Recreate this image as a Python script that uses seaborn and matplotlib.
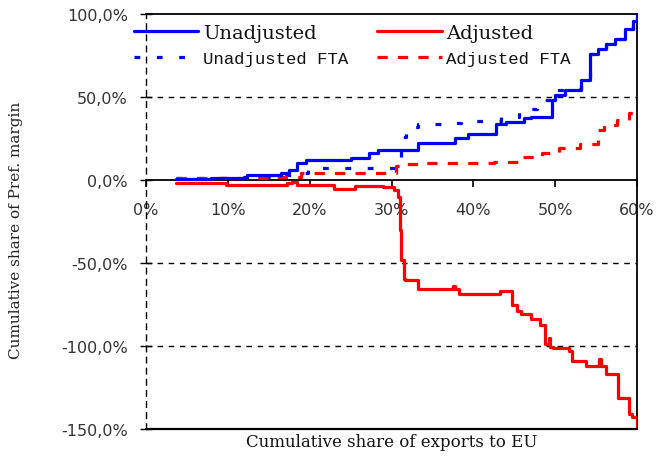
import matplotlib
matplotlib.use("Agg")
import matplotlib.pyplot as plt
import seaborn as sns
import numpy as np
import pandas as pd

# ---------------- data (x = cumulative share of exports, %, y = cumulative share of pref. margin, %) ----
unadj_x = [3.7, 8, 11, 12.3, 16.5, 17.5, 18.5, 19.5, 25, 27.3, 28.3, 30, 33.2, 35, 37.8, 39.3, 42.8,
           44, 46.2, 47, 49.6, 50, 51.2, 53.2, 54.3, 55.2, 56.2, 57.3, 58.5, 59.5, 60]
unadj_y = [0.5, 1, 1.5, 3, 4, 6, 10, 12, 13.5, 16, 17.8, 18, 22, 22.5, 25.3, 27.7, 34,
           35, 37.5, 38, 48, 51, 54, 60.5, 76, 79, 82, 85, 91, 96, 100]

unadj_fta_x = [3.7, 12, 16, 19, 19.8, 30.5, 31.2, 31.8, 33.2, 36, 38.5, 41, 43.4, 45.6, 47.8, 50, 51.2,
               53.2, 54.3, 55.2, 56.2, 57.3, 58.5, 59.5, 60]
unadj_fta_y = [1.5, 2, 3, 4, 7.2, 13.5, 26, 32, 33.7, 34.5, 35.3, 35.8, 38, 42.6, 48, 54, 55,
               60.5, 76, 79, 82, 85, 91, 96, 100]

adj_x = [3.7, 9.8, 17.2, 17.8, 18.5, 23, 25.5, 29, 30.3, 30.8, 31.0, 31.2, 31.5, 31.7, 33.2, 37.5,
         37.8, 38.2, 43.3, 44.7, 45.3, 45.8, 47, 48.2, 48.7, 49.2, 49.4, 49.7, 51.7, 52, 53.8,
         55.3, 55.6, 56.2, 57.7, 59, 59.4, 60]
adj_y = [-1.6, -3, -2, -1, -3, -5.5, -3.5, -4.5, -6, -10, -30, -48, -59.5, -60, -65.5, -64,
         -65.5, -68.5, -66.7, -75, -79, -81, -83.5, -87.5, -99, -95, -100.5, -101, -103, -109, -112,
         -108, -112, -117, -131.5, -141, -143, -150]

adj_fta_x = [3.7, 15, 19, 30.5, 31.3, 33.4, 42.5, 46, 48.4, 50.5, 53, 55.2, 56, 57.5, 59, 60]
adj_fta_y = [1.5, 2, 4, 8.5, 9.5, 10, 11, 14, 16, 19.5, 21.5, 30, 33, 36, 40.5, 42]

series_names = ["Unadjusted", "Adjusted", "Unadjusted FTA", "Adjusted FTA"]

xtick_values = [0, 10, 20, 30, 40, 50, 60]
xtick_labels = ["0%", "10%", "20%", "30%", "40%", "50%", "60%"]
ytick_values = [100, 50, 0, -50, -100, -150]
ytick_labels = ["100,0%", "50,0%", "0,0%", "-50,0%", "-100,0%", "-150,0%"]
grid_values = [50, -50, -100]

xlabel_text = "Cumulative share of exports to EU"
ylabel_text = "Cumulative share of Pref. margin"

# ---------------- figure ----------------
sns.set_theme(style="white")
plt.rcParams["font.family"] = ["DejaVu Sans"]

fig = plt.figure(figsize=(6.63, 4.60), dpi=100)
ax = fig.add_axes([146 / 663, 1 - 430 / 460, (637 - 146) / 663, (430 - 15) / 460])
ax.set_facecolor("white")

BLUE = "#0000ff"
RED = "#ff0000"
LW = 2.3

df_u = pd.DataFrame({"x": unadj_x, "y": unadj_y})
df_uf = pd.DataFrame({"x": unadj_fta_x, "y": unadj_fta_y})
df_a = pd.DataFrame({"x": adj_x, "y": adj_y})
df_af = pd.DataFrame({"x": adj_fta_x, "y": adj_fta_y})

common = dict(estimator=None, errorbar=None, drawstyle="steps-post", legend=False)
sns.lineplot(data=df_uf, x="x", y="y", ax=ax, color=BLUE, lw=LW,
             linestyle=(0, (1.8, 5.2)), zorder=3, **common)
sns.lineplot(data=df_af, x="x", y="y", ax=ax, color=RED, lw=LW,
             linestyle=(0, (3.2, 3.2)), zorder=3, **common)
sns.lineplot(data=df_a, x="x", y="y", ax=ax, color=RED, lw=LW, zorder=4, **common)
sns.lineplot(data=df_u, x="x", y="y", ax=ax, color=BLUE, lw=LW, zorder=5, **common)

lines = ax.get_lines()
h_uf, h_af, h_a, h_u = lines[0], lines[1], lines[2], lines[3]

ax.set_xlim(0, 60)
ax.set_ylim(-150, 100)

# grid lines
for g in grid_values:
    ax.axhline(g, color="black", lw=1.0, linestyle=(0, (4, 4)), zorder=1)

# spines
ax.spines["left"].set_linestyle((0, (4, 4)))
ax.spines["left"].set_linewidth(1.0)
ax.spines["left"].set_color("black")
ax.spines["bottom"].set_position(("data", 0))
ax.spines["bottom"].set_color("black")
ax.spines["bottom"].set_linewidth(1.3)
for s in ["top", "right"]:
    ax.spines[s].set_color("black")
    ax.spines[s].set_linewidth(1.3)
ax.axhline(-150, color="black", lw=1.6, clip_on=False, zorder=6)

ax.set_xticks(xtick_values)
ax.set_xticklabels(xtick_labels)
ax.set_yticks(ytick_values)
ax.set_yticklabels(ytick_labels)
ax.tick_params(axis="x", direction="out", length=5, width=1.2, color="black",
               pad=11, labelsize=11.5, labelcolor="#333333", bottom=True)
ax.tick_params(axis="y", direction="inout", length=8, width=1.0, color="black",
               pad=9, labelsize=11.5, labelcolor="#333333", left=True)
ax.set_xlabel("")
ax.set_ylabel("")

fig.text(16 / 663, 0.5, ylabel_text, rotation=90, ha="center", va="center",
         family="DejaVu Serif", fontsize=11, color="#222222")
fig.text(392 / 663, 1 - 443 / 460, xlabel_text, ha="center", va="center",
         family="DejaVu Serif", fontsize=12, color="#111111")

# legend (column-wise fill: Unadjusted, Unadjusted FTA | Adjusted, Adjusted FTA)
handles = [h_u, h_uf, h_a, h_af]
labels = [series_names[0], series_names[2], series_names[1], series_names[3]]
leg = fig.legend(handles, labels, ncol=2, loc="upper left",
                 bbox_to_anchor=(134 / 663, 1 - 25 / 460), frameon=False,
                 prop={"family": "DejaVu Serif", "size": 14},
                 handlelength=3.3, handletextpad=0.25, columnspacing=1.5,
                 labelspacing=0.4, borderpad=0, borderaxespad=0)
texts = leg.get_texts()
for i in (1, 3):
    texts[i].set_fontfamily("Liberation Mono")
    texts[i].set_fontsize(12.5)
    texts[i].set_fontweight("normal")
for t in texts:
    t.set_color("#111111")

fig.savefig("out.png", dpi=100, facecolor="white")
